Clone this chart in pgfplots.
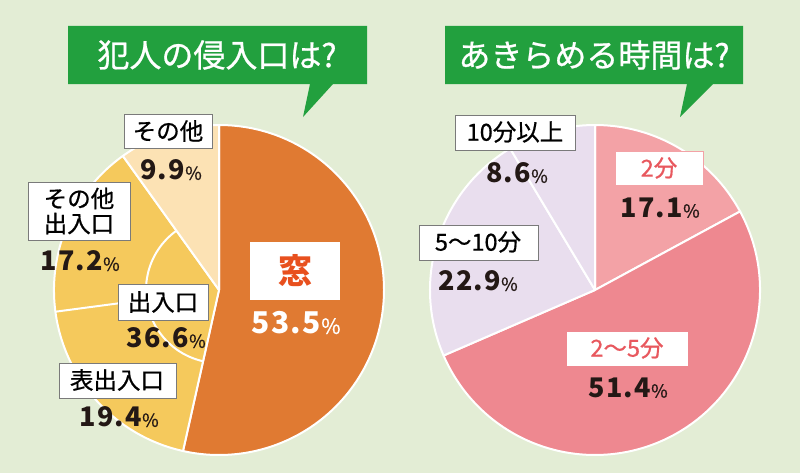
\documentclass[border=0pt]{standalone}
\usepackage{pgfplots}
\pgfplotsset{compat=1.18}
\usepackage{pgfplotstable}
\usepackage{fontspec}
\setmainfont{Noto Sans CJK JP}
\newfontfamily\medfont{Noto Sans CJK JP}[FakeBold=0.7]

\definecolor{bg}{HTML}{E3EDD5}
\definecolor{ttlgreen}{HTML}{22A03E}
\definecolor{madoorange}{HTML}{E07A32}
\definecolor{dooryellow}{HTML}{F5C95C}
\definecolor{peach}{HTML}{FCE2B4}
\definecolor{pinklight}{HTML}{F3A2A6}
\definecolor{pinkmid}{HTML}{EE8890}
\definecolor{lavender}{HTML}{E9DEEE}
\definecolor{pinktext}{HTML}{E8585E}
\definecolor{madotext}{HTML}{E8501E}
\definecolor{numdark}{HTML}{231815}
\definecolor{boxline}{HTML}{7A7A7A}

% shares in percent, clockwise from 12 o'clock
\pgfplotstableread{
part share
window 53.5
front 19.4
otherdoor 17.2
other 9.9
}\entrytable
\pgfplotstableread{
part share
two 17.1
twofive 51.4
fiveten 22.9
tenplus 8.6
}\timetable

\newcommand\getshare[3]{\pgfplotstablegetelem{#2}{share}\of#1\let#3\pgfplotsretval}
\newcommand\lab{\medfont\fontsize{23.5bp}{25bp}\selectfont}
\newcommand\ttl{\medfont\fontsize{32bp}{34bp}\selectfont}
\newcommand\num[1]{{\fontsize{27bp}{30bp}\selectfont\bfseries\addfontfeatures{LetterSpace=5}#1}{\fontsize{18bp}{20bp}\selectfont\medfont\%}}
\newcommand\bignum[1]{{\fontsize{30bp}{32bp}\selectfont\bfseries\addfontfeatures{LetterSpace=5}#1}{\fontsize{21bp}{22bp}\selectfont\medfont\%}}
% wedge: center x, center y, start angle, end angle, colour
\newcommand\piewedge[5]{\fill[#5, draw=white, line width=2bp, line join=round]
  (axis cs:#1,#2) -- ++(#3:165bp) arc[start angle=#3, end angle=#4, radius=165bp] -- cycle;}
\newcommand\labbox[3]{\filldraw[fill=white, draw=#3, line width=0.8bp] (axis cs:#1) rectangle (axis cs:#2);}

\begin{document}
\begin{tikzpicture}
\getshare\entrytable{0}\sA
\getshare\entrytable{1}\sB
\getshare\entrytable{2}\sC
\pgfmathsetmacro\eA{90-3.6*\sA}
\pgfmathsetmacro\eB{\eA-3.6*\sB}
\pgfmathsetmacro\eC{\eB-3.6*\sC}
\getshare\timetable{0}\tA
\getshare\timetable{1}\tB
\getshare\timetable{2}\tC
\pgfmathsetmacro\rA{90-3.6*\tA}
\pgfmathsetmacro\rB{\rA-3.6*\tB}
\pgfmathsetmacro\rC{\rB-3.6*\tC}
\begin{axis}[
    width=800bp, height=473bp, scale only axis,
    xmin=0, xmax=800, ymin=0, ymax=473, y dir=reverse,
    hide axis, clip=false,
  ]
  \coordinate (bl) at (axis cs:0,473);
  \coordinate (tr) at (axis cs:800,0);
  \fill[bg] (axis cs:0,0) rectangle (axis cs:800,473);

  % titles
  \fill[ttlgreen] (axis cs:68,26) -- (axis cs:367,26) -- (axis cs:367,84) -- (axis cs:333,84)
    -- (axis cs:303,117) -- (axis cs:310,84) -- (axis cs:68,84) -- cycle;
  \node[white, font=\ttl, inner sep=0] at (axis cs:217,55) {犯人の侵入口は?};
  \fill[ttlgreen] (axis cs:445,26) -- (axis cs:743,26) -- (axis cs:743,84) -- (axis cs:713,84)
    -- (axis cs:680,117) -- (axis cs:687,84) -- (axis cs:445,84) -- cycle;
  \node[white, font=\ttl, inner sep=0] at (axis cs:594,55) {あきらめる時間は?};

  % left pie
  \piewedge{219}{290}{90}{\eA}{madoorange}
  \piewedge{219}{290}{\eA}{\eC}{dooryellow}
  \piewedge{219}{290}{\eC}{-270}{peach}
  \draw[white, line width=2bp] (axis cs:219,290) ++(\eB:73bp) -- ++(\eB:92bp);
  \draw[white, line width=2bp] (axis cs:219,290) ++(\eA:73bp) arc[start angle=\eA, end angle=\eC, radius=73bp];

  % right pie
  \piewedge{595}{290}{90}{\rA}{pinklight}
  \piewedge{595}{290}{\rA}{\rB}{pinkmid}
  \piewedge{595}{290}{\rB}{\rC}{lavender}
  \piewedge{595}{290}{\rC}{-270}{lavender}

  % left labels
  \labbox{124,114}{212,148}{boxline}
  \node[font=\lab, inner sep=0] at (axis cs:168,131) {その他};
  \node[numdark, inner sep=0] at (axis cs:171,170) {\num{9.9}};
  \labbox{28,182}{130,240}{boxline}
  \node[font=\lab, inner sep=0, align=center] at (axis cs:79,211) {その他\\出入口};
  \node[numdark, inner sep=0] at (axis cs:80,261) {\num{17.2}};
  \labbox{118,284}{208,320}{boxline}
  \node[font=\lab, inner sep=0] at (axis cs:163,302) {出入口};
  \node[numdark, inner sep=0] at (axis cs:166,338) {\num{36.6}};
  \labbox{59,363}{176,398}{boxline}
  \node[font=\lab, inner sep=0] at (axis cs:117,380) {表出入口};
  \node[numdark, inner sep=0] at (axis cs:119,417) {\num{19.4}};
  \fill[white] (axis cs:250,242) rectangle (axis cs:340,300);
  \node[madotext, font=\fontsize{34bp}{36bp}\selectfont\bfseries, inner sep=0] at (axis cs:295,271) {窓};
  \node[white, inner sep=0] at (axis cs:296,323) {\bignum{53.5}};

  % right labels
  \labbox{455,115}{575,150}{boxline}
  \node[font=\lab, inner sep=0] at (axis cs:515,132) {10分以上};
  \node[numdark, inner sep=0] at (axis cs:517,173) {\num{8.6}};
  \labbox{419,225}{538,260}{boxline}
  \node[font=\lab, inner sep=0] at (axis cs:478,242) {5〜10分};
  \node[numdark, inner sep=0] at (axis cs:478,281) {\num{22.9}};
  \labbox{615,151}{703,185}{pinklight}
  \node[pinktext, font=\lab, inner sep=0] at (axis cs:659,168) {2分};
  \node[numdark, inner sep=0] at (axis cs:660,208) {\num{17.1}};
  \labbox{567,332}{687,365}{white}
  \node[pinktext, font=\lab, inner sep=0] at (axis cs:627,348) {2〜5分};
  \node[numdark, inner sep=0] at (axis cs:628,388) {\num{51.4}};
\end{axis}
\pgfresetboundingbox
\path (bl) rectangle (tr);
\end{tikzpicture}
\end{document}
